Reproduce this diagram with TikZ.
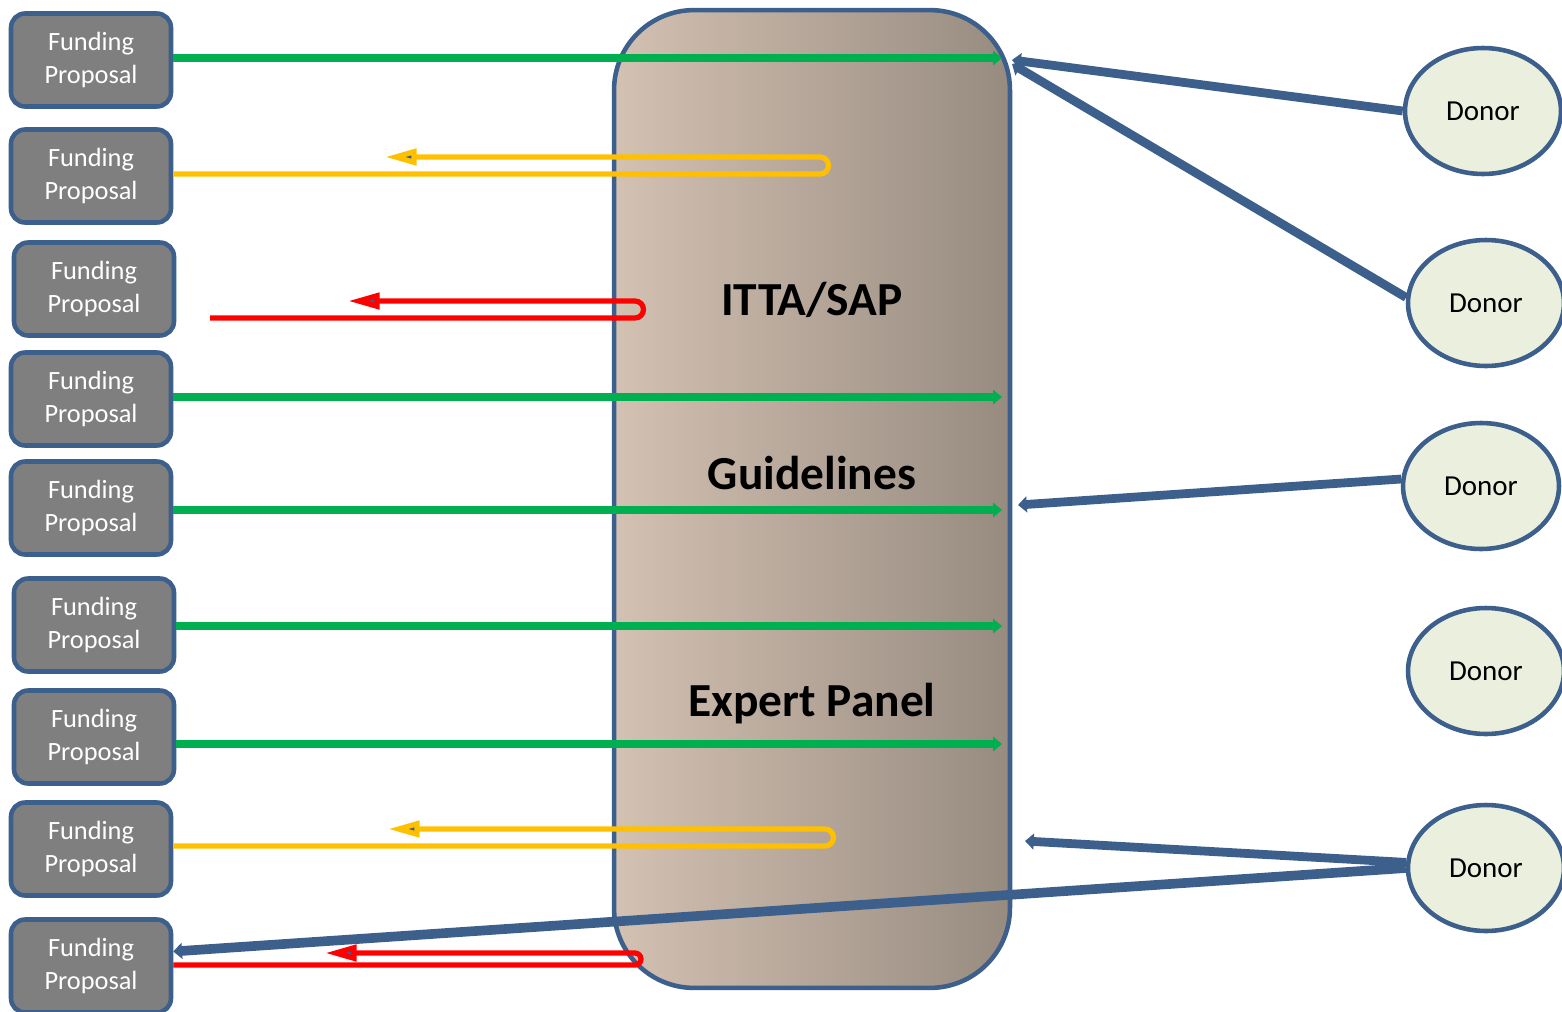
\documentclass[tikz,border=0pt]{standalone}
\usepackage{fontspec}
\setmainfont{Carlito}
\usepackage{tikz}
\usetikzlibrary{shapes.geometric,arrows.meta}

\definecolor{dblue}{RGB}{60,95,140}
\definecolor{boxgray}{RGB}{127,127,127}
\definecolor{donorfill}{RGB}{235,240,222}
\definecolor{fundgreen}{RGB}{0,176,80}
\definecolor{fundyellow}{RGB}{255,192,0}
\definecolor{fundred}{RGB}{255,0,0}
\definecolor{panelleft}{RGB}{211,193,178}
\definecolor{panelright}{RGB}{151,139,128}

\begin{document}
\begin{tikzpicture}[x=0.02cm,y=-0.02cm,
		fundbox/.style={draw=dblue, line width=2.6pt, fill=boxgray, rounded corners=8pt, minimum width=3.2cm, minimum height=1.86cm, text=white, align=center, inner sep=0pt, font=\fontsize{15}{19}\selectfont},
		donor/.style={ellipse, draw=dblue, line width=2.6pt, fill=donorfill, minimum width=3.12cm, minimum height=2.52cm, font=\fontsize{16.5}{19}\selectfont},
		panel/.style={draw=dblue, line width=2.6pt, rounded corners=1.6cm, left color=panelleft, right color=panelright, minimum width=7.92cm, minimum height=19.56cm},
		title/.style={font=\fontsize{27}{32}\selectfont\bfseries},
		goline/.style={draw=fundgreen, line width=4.2pt, -{Triangle[length=5pt,width=8pt]}},
		backline/.style={line width=3pt, -{Triangle[length=18pt,width=9pt,fill=dblue]}},
		donorline/.style={draw=dblue, line width=5pt, -{Triangle[length=5pt,width=9pt]}}]

		\useasboundingbox (0,0) rectangle (1562,1011);

		\node[panel] (panel) at (812,499) {};
		\node[title] (itta) at (812,300) {ITTA/SAP};
		\node[title] (guide) at (812,473) {Guidelines};
		\node[title] (expert) at (812,704) {Expert Panel};

		\foreach \n/\x/\y in {1/91/60, 2/91/176, 3/94/289, 4/91/399, 5/91/508, 6/94/625, 7/94/737, 8/91/849, 9/91/966}{
				\node[fundbox] (fp\n) at (\x,\y) {Funding\\Proposal};
			}
		\foreach \n/\x/\y in {1/1483/111, 2/1486/303, 3/1481/486, 4/1486/671, 5/1486/868}{
				\node[donor] (d\n) at (\x,\y) {Donor};
			}

		% accepted
		\foreach \n/\y in {1/58, 4/397, 5/510, 6/626, 7/744}{
				\coordinate (g\n) at (1002,\y);
				\draw[goline] (fp\n.east |- g\n) -- (g\n);
			}

		% sent back
		\coordinate (u2) at (820,174);
		\coordinate (a2) at (385,157);
		\draw[backline, fundyellow] (fp2.east |- u2) -- (u2) arc[start angle=90, end angle=-90, radius=8.5] -- (a2);
		\coordinate (u8) at (825,846);
		\coordinate (a8) at (388,829);
		\draw[backline, fundyellow] (fp8.east |- u8) -- (u8) arc[start angle=90, end angle=-90, radius=8.5] -- (a8);

		% rejected
		\coordinate (s3) at (210,318);
		\coordinate (u3) at (635,318);
		\coordinate (a3) at (348,301);
		\draw[backline, fundred] (s3) -- (u3) arc[start angle=90, end angle=-90, radius=8.5] -- (a3);
		\coordinate (u9) at (635,965);
		\coordinate (a9) at (325,953);
		\draw[backline, fundred] (fp9.east |- u9) -- (u9) arc[start angle=90, end angle=-90, radius=6] -- (a9);

		% donors
		\coordinate (p1) at (1012,60);
		\coordinate (p2) at (1012,64);
		\coordinate (p3) at (1018,505);
		\coordinate (p5) at (1025,841);
		\draw[donorline] (d1.west) -- (p1);
		\draw[donorline] (d2.176) -- (p2);
		\draw[donorline] (d3.175) -- (p3);
		\draw[donorline] (d5.176) -- (p5);
		\draw[donorline, line width=5.5pt] (d5.west) -- (fp9.10);

		\end{tikzpicture}
\end{document}
